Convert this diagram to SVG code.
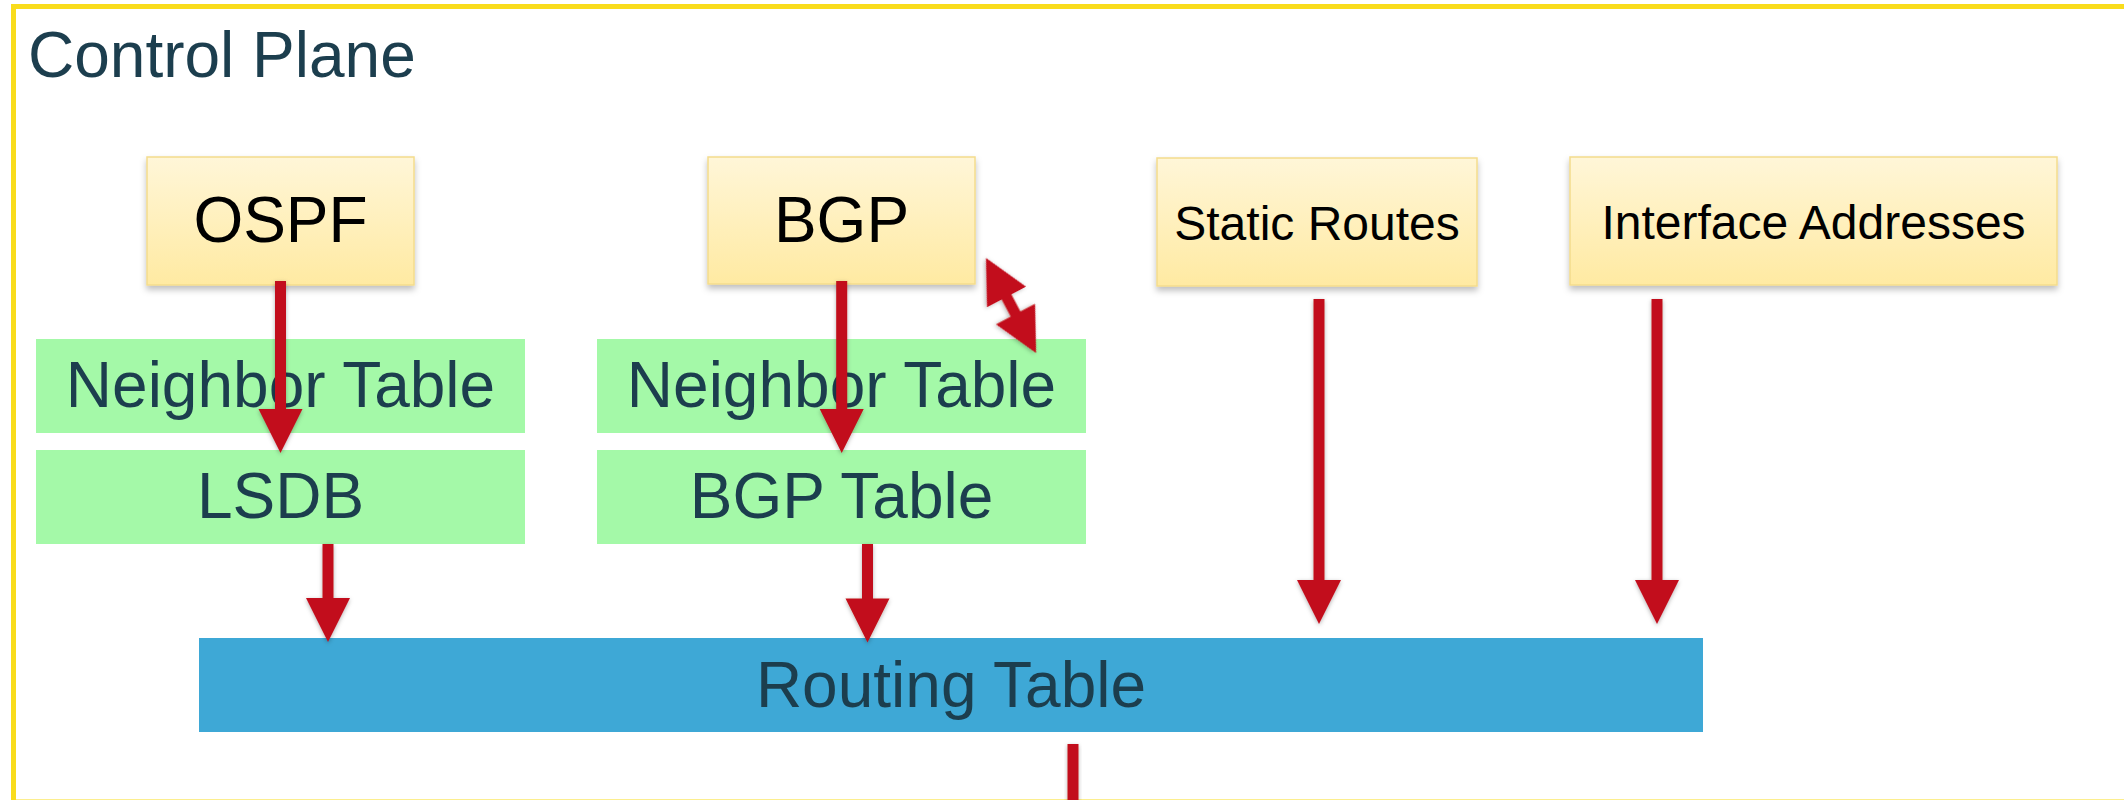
<svg xmlns="http://www.w3.org/2000/svg" width="2124" height="800" viewBox="0 0 2124 800">
  <defs>
    <linearGradient id="protoFill" x1="0" y1="0" x2="0" y2="1">
      <stop offset="0" stop-color="#fff6d8"/>
      <stop offset="1" stop-color="#ffeaa2"/>
    </linearGradient>
    <filter id="boxShadow" x="-10%" y="-10%" width="120%" height="130%">
      <feDropShadow dx="0" dy="4" stdDeviation="3" flood-color="#000" flood-opacity="0.25"/>
    </filter>
    <filter id="arrowShadow" x="-30%" y="-10%" width="160%" height="120%">
      <feDropShadow dx="0" dy="1.5" stdDeviation="2" flood-color="#000" flood-opacity="0.3"/>
    </filter>
    <style>
      .frame { fill: none; stroke: #f9dc1c; stroke-width: 5; }
      .title { font-family: "Liberation Sans", Arial, sans-serif; font-size: 64px; fill: #1c3e4e; }
      .proto { fill: url(#protoFill); stroke: #f4dc8c; stroke-width: 1.5; filter: url(#boxShadow); }
      .protoText { font-family: "Liberation Sans", Arial, sans-serif; fill: #000; text-anchor: middle; }
      .big { font-size: 64px; }
      .small { font-size: 48px; }
      .table { fill: #a4f9a8; }
      .rib { fill: #3ea8d6; }
      .tableText { font-family: "Liberation Sans", Arial, sans-serif; font-size: 64px; fill: #1c3e4e; text-anchor: middle; }
      .arrow { fill: #c20e1a; filter: url(#arrowShadow); }
    </style>
  </defs>

  <rect width="2124" height="800" fill="#ffffff"/>

  <!-- control plane frame (right and bottom edges run past the canvas) -->
  <g id="control-plane">
    <rect class="frame" x="13.5" y="6.5" width="2140" height="795.5"/>
    <text class="title" x="28" y="77">Control Plane</text>
  </g>

  <!-- route sources -->
  <g id="ospf">
    <rect class="proto" x="147" y="157" width="267" height="128"/>
    <text class="protoText big" x="280.5" y="242">OSPF</text>
  </g>
  <g id="bgp">
    <rect class="proto" x="708" y="157" width="267" height="127"/>
    <text class="protoText big" x="841.5" y="242">BGP</text>
  </g>
  <g id="static-routes">
    <rect class="proto" x="1157" y="158" width="320" height="128"/>
    <text class="protoText small" x="1317" y="240">Static Routes</text>
  </g>
  <g id="interface-addresses">
    <rect class="proto" x="1570" y="157" width="487" height="128"/>
    <text class="protoText small" x="1813.5" y="239">Interface Addresses</text>
  </g>

  <!-- protocol tables -->
  <g id="ospf-neighbor-table">
    <rect class="table" x="36" y="339" width="489" height="94"/>
    <text class="tableText" x="280.5" y="407">Neighbor Table</text>
  </g>
  <g id="lsdb">
    <rect class="table" x="36" y="450" width="489" height="94"/>
    <text class="tableText" x="280.5" y="518">LSDB</text>
  </g>
  <g id="bgp-neighbor-table">
    <rect class="table" x="597" y="339" width="489" height="94"/>
    <text class="tableText" x="841.5" y="407">Neighbor Table</text>
  </g>
  <g id="bgp-table">
    <rect class="table" x="597" y="450" width="489" height="94"/>
    <text class="tableText" x="841.5" y="518">BGP Table</text>
  </g>

  <g id="routing-table">
    <rect class="rib" x="199" y="638" width="1504" height="94"/>
    <text class="tableText" x="951" y="707">Routing Table</text>
  </g>

  <!-- connectors: block arrows (shaft 11 wide, head 44 x 44) -->
  <g id="connectors">
    <polygon class="arrow" points="275,281 286,281 286,409 302.5,409 280.5,453 258.5,409 275,409"/>
    <polygon class="arrow" points="322.5,544 333.5,544 333.5,598 350,598 328,642 306,598 322.5,598"/>
    <polygon class="arrow" points="836.2,281 847.2,281 847.2,409 863.7,409 841.7,453 819.7,409 836.2,409"/>
    <polygon class="arrow" points="862,544 873,544 873,598.5 889.5,598.5 867.5,642.5 845.5,598.5 862,598.5"/>
    <polygon class="arrow" points="1313.5,299 1324.5,299 1324.5,580 1341,580 1319,624 1297,580 1313.5,580"/>
    <polygon class="arrow" points="1651.5,299 1662.5,299 1662.5,580 1679,580 1657,624 1635,580 1651.5,580"/>
    <rect class="arrow" x="1067.5" y="744" width="11" height="70"/>
    <!-- BGP peering, two-way -->
    <polygon class="arrow" transform="translate(986 258) rotate(62.2)"
             points="0,0 44,-22 44,-5.5 63.4,-5.5 63.4,-22 107.4,0 63.4,22 63.4,5.5 44,5.5 44,22"/>
  </g>
</svg>
